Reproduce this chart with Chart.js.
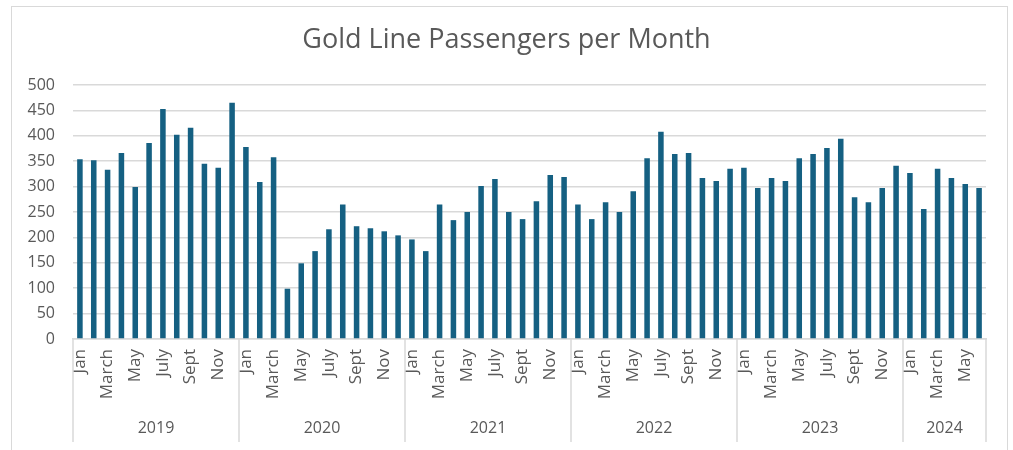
<!DOCTYPE html>
<html>
<head>
<meta charset="utf-8">
<script src="https://cdn.jsdelivr.net/npm/chart.js@4.4.1/dist/chart.umd.min.js"></script>
<style>
  body { margin: 0; background: #fff; }
  #frame { position: absolute; left: 11px; top: 6px; width: 997px; height: 460px; border: 1px solid #d9d9d9; box-sizing: border-box; }
  #wrap { position: absolute; left: 0; top: 0; width: 1013px; height: 450px; }
</style>
</head>
<body>
<div id="frame"></div>
<div id="wrap"><canvas id="goldChart" width="1013" height="450"></canvas></div>
<script>
var years = ['2019', '2020', '2021', '2022', '2023', '2024'];
var monthNames = ['Jan', 'Feb', 'March', 'April', 'May', 'June', 'July', 'Aug', 'Sept', 'Oct', 'Nov', 'Dec'];

var data2019 = [354, 352, 333, 366, 299, 386, 453, 402, 416, 345, 337, 465];
var data2020 = [378, 309, 358, 99, 149, 173, 216, 265, 222, 218, 212, 204];
var data2021 = [196, 173, 265, 234, 250, 301, 315, 250, 236, 271, 323, 319];
var data2022 = [265, 236, 269, 250, 291, 356, 408, 364, 366, 317, 311, 335];
var data2023 = [337, 297, 317, 311, 356, 364, 376, 394, 279, 269, 297, 341];
var data2024 = [327, 256, 335, 317, 305, 297];

var yearData = [data2019, data2020, data2021, data2022, data2023, data2024];

var textColor = '#595959';
var lineColor = '#d9d9d9';
var fontFamily = '"Open Sans", "Noto Sans", sans-serif';

// flatten into one label per bar, remember which year each bar belongs to
var labels = [];
var values = [];
var yearGroups = [];
yearData.forEach(function (arr, y) {
  var first = labels.length;
  arr.forEach(function (v, m) {
    labels.push(monthNames[m]);
    values.push(v);
  });
  yearGroups.push({ year: years[y], first: first, last: labels.length - 1 });
});

// draws the second level of the category axis (years + separators)
var yearAxis = {
  id: 'yearAxis',
  afterDraw: function (chart) {
    var ctx = chart.ctx;
    var x = chart.scales.x;
    var half = (x.getPixelForValue(1) - x.getPixelForValue(0)) / 2;
    var top = chart.chartArea.bottom;
    ctx.save();
    ctx.strokeStyle = lineColor;
    ctx.lineWidth = 1.5;
    ctx.fillStyle = textColor;
    ctx.font = '16px ' + fontFamily;
    ctx.textAlign = 'center';
    ctx.textBaseline = 'middle';
    yearGroups.forEach(function (g, i) {
      var left = x.getPixelForValue(g.first) - half;
      var right = x.getPixelForValue(g.last) + half;
      ctx.beginPath();
      ctx.moveTo(left, top);
      ctx.lineTo(left, 442);
      if (i === yearGroups.length - 1) {
        ctx.moveTo(right, top);
        ctx.lineTo(right, 442);
      }
      ctx.stroke();
      ctx.fillText(g.year, (left + right) / 2, 428);
    });
    ctx.restore();
  }
};

const createChart = () => {
  var ctx = document.getElementById('goldChart');
  new Chart(ctx, {
    type: 'bar',
    data: {
      labels: labels,
      datasets: [{
        label: 'Passengers',
        data: values,
        backgroundColor: '#156082',
        barPercentage: 0.4,
        categoryPercentage: 1
      }]
    },
    options: {
      responsive: false,
      animation: false,
      layout: { padding: { left: 27, right: 27, top: 0, bottom: 0 } },
      plugins: {
        legend: { display: false },
        tooltip: { enabled: false },
        title: {
          display: true,
          text: 'Gold Line Passengers per Month',
          color: textColor,
          font: { family: fontFamily, size: 27, weight: 'normal' },
          padding: { top: 24, bottom: 28.6 }
        }
      },
      scales: {
        x: {
          grid: { display: false, drawTicks: false },
          border: { display: true, color: lineColor, width: 1.5 },
          afterFit: function (scale) { scale.height = 111; },
          ticks: {
            autoSkip: false,
            maxRotation: 90,
            minRotation: 90,
            padding: 10,
            color: textColor,
            font: { family: fontFamily, size: 17 },
            callback: function (val, index) {
              return index % 2 === 0 ? this.getLabelForValue(val) : '';
            }
          }
        },
        y: {
          min: 0,
          max: 500,
          afterFit: function (scale) { scale.width = 46; },
          grid: { color: lineColor, lineWidth: 1.5, drawTicks: false },
          border: { display: false },
          ticks: {
            stepSize: 50,
            padding: 18,
            color: textColor,
            font: { family: fontFamily, size: 16 }
          }
        }
      }
    },
    plugins: [yearAxis]
  });
}

createChart();
</script>
</body>
</html>
